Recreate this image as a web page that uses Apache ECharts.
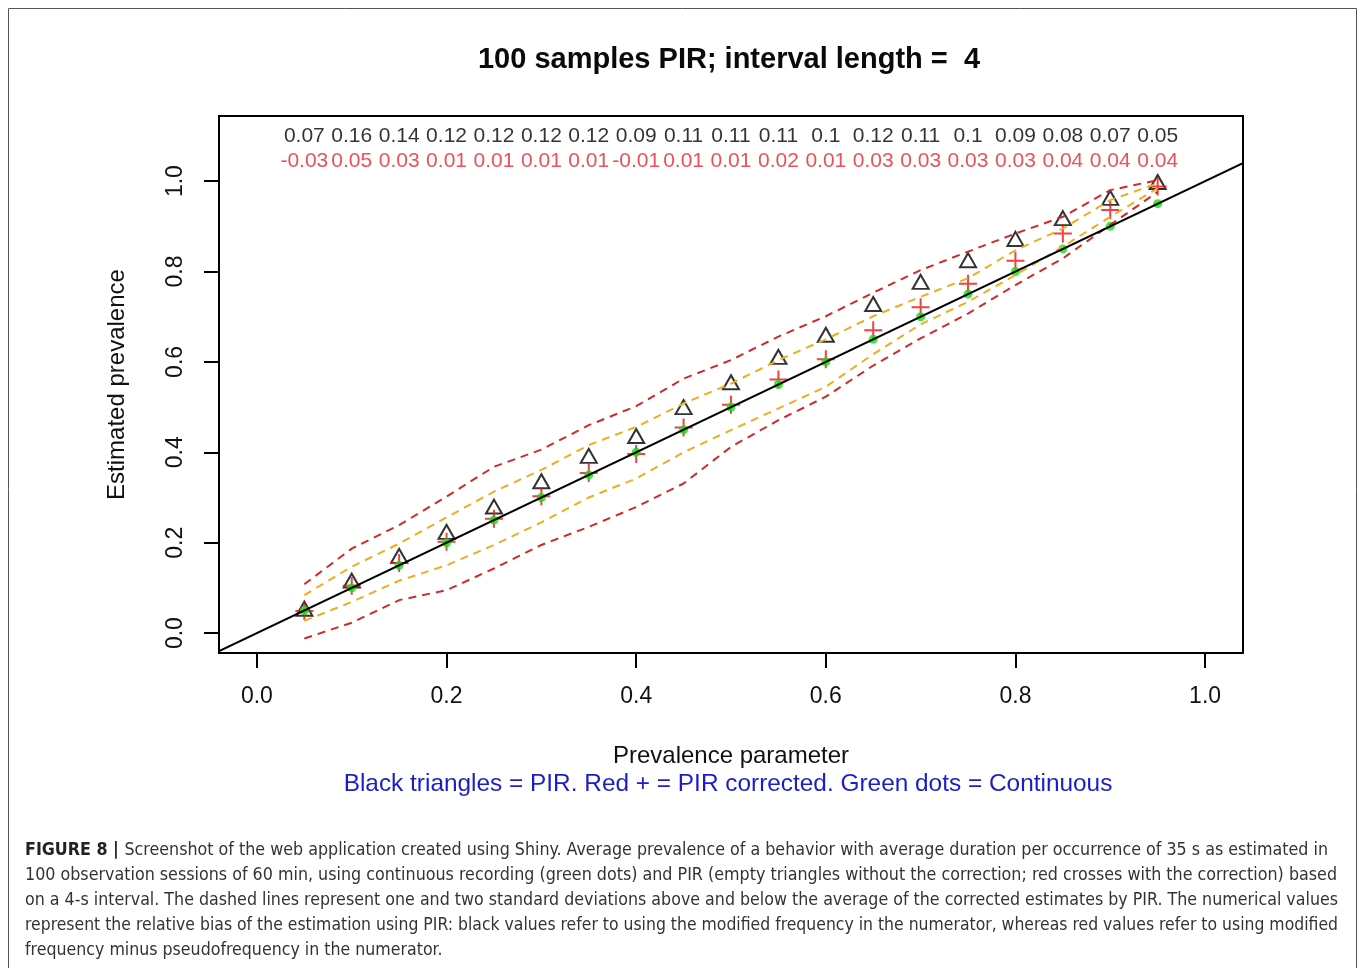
<!DOCTYPE html>
<html lang="en">
<head>
<meta charset="UTF-8">
<title>100 samples PIR; interval length = 4</title>
<script src="https://cdn.jsdelivr.net/npm/echarts@6/dist/echarts.min.js"></script>
<style>
  html, body { margin: 0; padding: 0; background: #fff; }
  #main { width: 1360px; height: 968px; }
</style>
</head>
<body>
<div id="main"></div>
<script>
// prevalence parameter (x of every point)
var prevalence = [0.05, 0.10, 0.15, 0.20, 0.25, 0.30, 0.35, 0.40, 0.45, 0.50,
                  0.55, 0.60, 0.65, 0.70, 0.75, 0.80, 0.85, 0.90, 0.95];
// green dots = continuous recording
var continuous = [0.05, 0.10, 0.15, 0.20, 0.25, 0.30, 0.35, 0.40, 0.45, 0.50,
                  0.55, 0.60, 0.65, 0.70, 0.75, 0.80, 0.85, 0.90, 0.95];
// black triangles = PIR without correction
var pirRaw = [0.054, 0.116, 0.171, 0.224, 0.280, 0.336, 0.392, 0.436, 0.500, 0.555,
              0.611, 0.660, 0.728, 0.777, 0.825, 0.872, 0.918, 0.963, 0.998];
// red crosses = PIR corrected
var pirCorrected = [0.049, 0.105, 0.155, 0.202, 0.253, 0.303, 0.354, 0.396, 0.455, 0.505,
                    0.561, 0.606, 0.670, 0.721, 0.773, 0.824, 0.884, 0.936, 0.988];
// dashed lines, +-1 and +-2 sd around the corrected estimates
var up2 = [0.108, 0.187, 0.239, 0.302, 0.368, 0.406, 0.460, 0.502, 0.563, 0.604,
           0.656, 0.701, 0.753, 0.803, 0.844, 0.884, 0.921, 0.980, 1.002];
var up1 = [0.084, 0.147, 0.198, 0.256, 0.313, 0.361, 0.416, 0.456, 0.508, 0.552,
           0.604, 0.650, 0.701, 0.744, 0.785, 0.847, 0.895, 0.958, 0.995];
var low1 = [0.027, 0.069, 0.116, 0.150, 0.195, 0.245, 0.300, 0.342, 0.400, 0.449,
            0.497, 0.545, 0.617, 0.683, 0.733, 0.792, 0.855, 0.921, 0.984];
var low2 = [-0.012, 0.023, 0.073, 0.095, 0.143, 0.195, 0.235, 0.279, 0.331, 0.412,
            0.471, 0.523, 0.592, 0.652, 0.707, 0.770, 0.829, 0.903, 0.976];
// relative bias printed on top of the plot
var biasBlack = ['0.07', '0.16', '0.14', '0.12', '0.12', '0.12', '0.12', '0.09', '0.11', '0.11',
                 '0.11', '0.1', '0.12', '0.11', '0.1', '0.09', '0.08', '0.07', '0.05'];
var biasRed = ['-0.03', '0.05', '0.03', '0.01', '0.01', '0.01', '0.01', '-0.01', '0.01', '0.01',
               '0.02', '0.01', '0.03', '0.03', '0.03', '0.03', '0.04', '0.04', '0.04'];
var axisTicks = [0, 0.2, 0.4, 0.6, 0.8, 1.0];
var identity = [-0.2, 1.3]; // y = x reference line

var captionHead = 'FIGURE 8 | ';
var captionLines = [
  'Screenshot of the web application created using Shiny. Average prevalence of a behavior with average duration per occurrence of 35 s as estimated in',
  '100 observation sessions of 60 min, using continuous recording (green dots) and PIR (empty triangles without the correction; red crosses with the correction) based',
  'on a 4-s interval. The dashed lines represent one and two standard deviations above and below the average of the corrected estimates by PIR. The numerical values',
  'represent the relative bias of the estimation using PIR: black values refer to using the modified frequency in the numerator, whereas red values refer to using modified',
  'frequency minus pseudofrequency in the numerator.'
];
// right edge each caption line reaches in the figure (justified text)
var captionRight = [1328, 1337, 1338, 1338, null];

var FONT = '"Liberation Sans", Arial, sans-serif';
var CAP_FONT = '"Liberation Sans Narrow", "DejaVu Sans Condensed", "Liberation Sans", sans-serif';

function pairs(ys) {
  return prevalence.map(function (x, i) { return [x, ys[i]]; });
}

function dashed(name, ys, color) {
  return {
    name: name, type: 'line', data: pairs(ys), symbol: 'none', silent: true,
    lineStyle: { color: color, width: 2, type: [8, 6] }
  };
}

function biasRow(labels, y, color) {
  return {
    type: 'scatter', symbolSize: 0, silent: true,
    data: prevalence.map(function (x, i) { return [x, y, labels[i]]; }),
    label: {
      show: true, position: 'inside', color: color,
      fontFamily: FONT, fontSize: 21,
      formatter: function (p) { return p.value[2]; }
    }
  };
}

// caption is justified in a condensed face: squeeze each line to its width
var ctx = document.createElement('canvas').getContext('2d');
function textWidth(str, bold) {
  ctx.font = (bold ? 'bold ' : '') + '18px ' + CAP_FONT;
  return ctx.measureText(str).width;
}
var headWidth = textWidth(captionHead, true);
var scales = captionLines.map(function (line, i) {
  if (captionRight[i] === null) return null;
  var w = textWidth(line, false) + (i === 0 ? headWidth : 0);
  return (captionRight[i] - 25) / w;
});
var lastScale = (scales[1] + scales[2] + scales[3]) / 3;

var graphics = [
  { type: 'rect', shape: { x: 8.5, y: 8.5, width: 1348, height: 980 },
    style: { fill: 'none', stroke: '#555', lineWidth: 1 }, silent: true },
  { type: 'text', x: 729, y: 60,
    style: { text: '100 samples PIR; interval length =  4', align: 'center', verticalAlign: 'middle',
             fontFamily: FONT, fontSize: 29, fontWeight: 'bold', fill: '#0a0a0a' } },
  { type: 'text', x: 728, y: 784,
    style: { text: 'Black triangles = PIR. Red + = PIR corrected. Green dots = Continuous',
             align: 'center', verticalAlign: 'middle', fontFamily: FONT, fontSize: 24.4, fill: '#1c1ccc' } }
];
captionLines.forEach(function (line, i) {
  graphics.push({
    type: 'text', x: 25, y: 850 + i * 25, scaleX: scales[i] === null ? lastScale : scales[i],
    style: {
      text: (i === 0 ? '{b|' + captionHead + '}' : '') + line,
      rich: { b: { fontWeight: 'bold', fontFamily: CAP_FONT, fontSize: 18, fill: '#222' } },
      verticalAlign: 'middle', fontFamily: CAP_FONT, fontSize: 18, fill: '#333'
    }
  });
});

var myChart = echarts.init(document.getElementById('main'));

var option = {
  backgroundColor: '#fff',
  animation: false,
  grid: { left: 219, top: 116, width: 1024, height: 537, show: true, borderColor: '#000', borderWidth: 2 },
  xAxis: {
    type: 'value', min: -0.04, max: 1.04,
    name: 'Prevalence parameter', nameLocation: 'middle', nameGap: 91,
    nameTextStyle: { fontFamily: FONT, fontSize: 24, color: '#111' },
    axisLine: { show: false, onZero: false },
    axisTick: { show: true, length: 15, customValues: axisTicks, lineStyle: { color: '#000', width: 2 } },
    axisLabel: { customValues: axisTicks, margin: 32, fontFamily: FONT, fontSize: 23, color: '#111',
                 formatter: function (v) { return v.toFixed(1); } },
    splitLine: { show: false }
  },
  yAxis: {
    type: 'value', min: -0.044, max: 1.144,
    name: 'Estimated prevalence', nameLocation: 'middle', nameGap: 90,
    nameTextStyle: { fontFamily: FONT, fontSize: 24, color: '#111' },
    axisLine: { show: false, onZero: false },
    axisTick: { show: true, length: 15, customValues: axisTicks, lineStyle: { color: '#000', width: 2 } },
    axisLabel: { customValues: axisTicks, margin: 32, rotate: 90, fontFamily: FONT, fontSize: 23, color: '#111',
                 formatter: function (v) { return v.toFixed(1); } },
    splitLine: { show: false }
  },
  series: [
    dashed('+2 sd', up2, '#cf2a2a'),
    dashed('-2 sd', low2, '#cf2a2a'),
    dashed('+1 sd', up1, '#f0ad1e'),
    dashed('-1 sd', low1, '#f0ad1e'),
    {
      type: 'line', symbol: 'none', silent: true, clip: true,
      data: identity.map(function (v) { return [v, v]; }),
      lineStyle: { color: '#000', width: 2 }
    },
    {
      name: 'PIR', type: 'scatter', data: pairs(pirRaw), symbol: 'triangle', symbolSize: [16, 14],
      itemStyle: { color: 'rgba(0,0,0,0)', borderColor: '#000', borderWidth: 2 }
    },
    {
      name: 'PIR corrected', type: 'scatter', data: pairs(pirCorrected),
      symbol: 'path://M10,0L10,20M0,10L20,10', symbolSize: 18,
      itemStyle: { color: 'rgba(0,0,0,0)', borderColor: '#ee1111', borderWidth: 2 }
    },
    {
      name: 'Continuous', type: 'scatter', data: pairs(continuous), symbol: 'circle', symbolSize: 9,
      itemStyle: { color: '#14e014' }
    },
    biasRow(biasBlack, 1.10, '#000'),
    biasRow(biasRed, 1.045, '#e8262d')
  ],
  graphic: graphics
};

myChart.setOption(option);
</script>
</body>
</html>
